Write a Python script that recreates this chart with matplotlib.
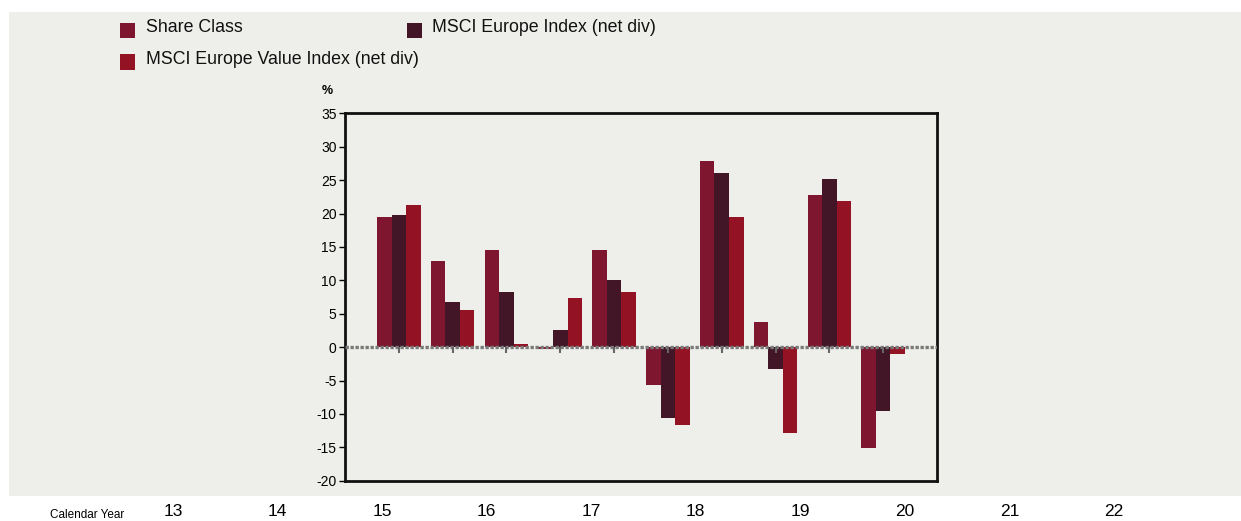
import matplotlib
matplotlib.use("Agg")
import matplotlib.pyplot as plt
from matplotlib import font_manager
from matplotlib.patches import Rectangle
import numpy as np

# Calendar-year returns (%)
years = ["13", "14", "15", "16", "17", "18", "19", "20", "21", "22"]
share_class = [19.5, 12.95, 14.6, -0.3, 14.6, -5.6, 27.8, 3.8, 22.8, -15.1]
msci_europe = [19.8, 6.7, 8.2, 2.6, 10.1, -10.6, 26.0, -3.3, 25.1, -9.5]
msci_europe_value = [21.2, 5.5, 0.5, 7.4, 8.3, -11.7, 19.5, -12.9, 21.8, -1.1]

series_names = ["Share Class", "MSCI Europe Index (net div)",
                "MSCI Europe Value Index (net div)"]
colors = ["#7e1630", "#421527", "#931324"]

available = {f.name for f in font_manager.fontManager.ttflist}
FONT = "Liberation Sans Narrow" if "Liberation Sans Narrow" in available else "Liberation Sans"
plt.rcParams["font.family"] = [FONT, "DejaVu Sans"]
plt.rcParams["axes.unicode_minus"] = False

W, H = 1241, 521
fig = plt.figure(figsize=(W / 100, H / 100), dpi=100)
fig.patch.set_facecolor("white")

PANEL = "#eeeeea"
fig.patches.append(Rectangle((9 / W, 1 - 495.5 / H), (W - 9) / W, (495.5 - 12) / H,
                             transform=fig.transFigure, facecolor=PANEL,
                             edgecolor="none", zorder=-5))

# Main bar axes
l, r, t, b = 345, 937, 113.3, 480.7
ax = fig.add_axes([l / W, 1 - b / H, (r - l) / W, (b - t) / H])
ax.set_facecolor(PANEL)

x = np.arange(len(years))
bw = 0.27
for i, (vals, c) in enumerate(zip([share_class, msci_europe, msci_europe_value], colors)):
    ax.bar(x + (i - 1) * bw, vals, width=bw, color=c, zorder=2, linewidth=0)

ax.set_xlim(-1, len(years))
ax.set_ylim(-20, 35)
ax.set_yticks(np.arange(-20, 36, 5))
ax.set_xticks([])
ax.tick_params(axis="y", direction="out", length=4, width=1, labelsize=10, pad=2)
for s in ax.spines.values():
    s.set_linewidth(2)
    s.set_color("#111111")

# zero line and year ticks on it
ax.axhline(0, color="#7a7a7a", linewidth=2.4, linestyle=(0, (1.0, 0.5)), zorder=3)
ax.vlines(x, 0, -0.9, color="#666666", linewidth=1.5, zorder=3)

ax.text(-0.02, 1.06, "%", transform=ax.transAxes, ha="right", va="center",
        fontsize=9, fontweight="bold")

# Legend
leg_items = [(120, 30.5, 0), (407, 30.5, 1), (120, 62, 2)]
for px, py, k in leg_items:
    fig.patches.append(Rectangle((px / W, 1 - (py + 7.5) / H), 15 / W, 15 / H,
                                 transform=fig.transFigure, facecolor=colors[k],
                                 edgecolor="none", zorder=2))
    fig.text((px + 25.5) / W, 1 - (py - 3) / H, series_names[k], fontsize=12.8,
             ha="left", va="center", color="#111111")

# Calendar year row beneath the panel
yx0, yx1 = 173, 1114
step = (yx1 - yx0) / (len(years) - 1)
ax2 = fig.add_axes([(yx0 - step / 2) / W, 1 - 500 / H, step * len(years) / W, 1 / H])
ax2.set_xlim(-0.5, len(years) - 0.5)
ax2.set_xticks(x)
ax2.set_xticklabels(years, fontsize=12.5)
ax2.set_yticks([])
ax2.tick_params(axis="x", length=0, pad=3)
for s in ax2.spines.values():
    s.set_visible(False)
ax2.patch.set_alpha(0)
fig.text(50 / W, 1 - 515 / H, "Calendar Year", fontsize=8.5, ha="left", va="center")

fig.savefig("out.png", dpi=100)
